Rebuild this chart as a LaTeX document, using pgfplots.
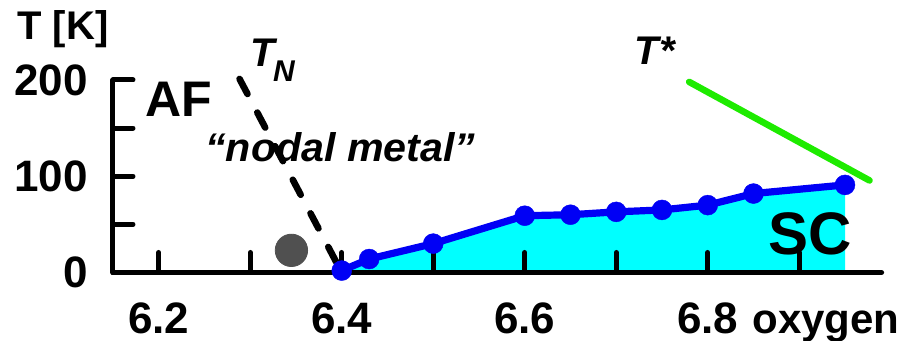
\documentclass[border=0pt]{standalone}
\usepackage{fontspec}
\setmainfont{Liberation Sans}
\usepackage{graphicx}
\usepackage{pgfplots}
\pgfplotsset{compat=1.18}

\definecolor{scblue}{RGB}{0,0,245}
\definecolor{sccyan}{RGB}{0,255,255}
\definecolor{pseudogreen}{RGB}{30,235,0}
\definecolor{dotgray}{RGB}{80,80,80}

% superconducting dome: oxygen content vs T_c
\pgfplotstableread{
ox    tc
6.40  2
6.43  14
6.50  30
6.60  59
6.65  60
6.70  63
6.75  65
6.80  70
6.85  82
6.95  91
}\tcdata

\begin{document}
\begin{tikzpicture}
\useasboundingbox (-56.5pt,-34.25pt) rectangle (396pt,136.25pt);
\begin{axis}[
  x=457.5pt, y=0.48125pt,
  xmin=6.15, xmax=6.99, ymin=0, ymax=200,
  axis lines=left,
  axis line style={-, line width=2.5pt, line cap=round},
  axis on top,
  clip=false,
  tick align=inside,
  major tick length=10pt, minor tick length=10pt,
  tick style={black, line width=2.5pt, line cap=round},
  xtick={6.2,6.4,6.6,6.8}, xticklabels={6.2,6.4,6.6,6.8},
  minor xtick={6.3,6.5,6.7,6.9},
  ytick={0,100,200}, yticklabels={0,100,200},
  minor ytick={50,150},
  xticklabel style={font=\fontsize{22}{22}\selectfont\bfseries, inner sep=0pt, anchor=north, yshift=-15pt},
  yticklabel style={font=\fontsize{22}{22}\selectfont\bfseries, inner sep=0pt, anchor=east, xshift=-12.5pt},
]
% SC region
\addplot[draw=none, fill=sccyan] table[x=ox, y=tc] {\tcdata} \closedcycle;
% Neel temperature
\addplot[black, line width=3.3pt, line cap=round, dash pattern=on 8.5pt off 10.5pt]
  coordinates {(6.2883,201.1) (6.40,0)};
% single point in the nodal metal region
\addplot[only marks, mark=*, mark size=8.1pt, color=dotgray] coordinates {(6.345,23)};
% T_c line
\addplot[scblue, line width=3.6pt, mark=*, mark size=5pt, mark options={line width=0.2pt, fill=scblue}]
  table[x=ox, y=tc] {\tcdata};
% pseudogap temperature
\addplot[pseudogreen, line width=3.3pt, line cap=round] coordinates {(6.7797,198.0) (6.9768,95.6)};

\node[anchor=base west, inner sep=0pt, font=\fontsize{20}{20}\selectfont\bfseries]
  at (axis cs:6.045,241.6) {T [K]};
\node[anchor=base west, inner sep=0pt, font=\fontsize{25}{25}\selectfont\bfseries]
  at (axis cs:6.185,161.6) {AF};
\node[anchor=base west, inner sep=0pt, font=\bfseries\itshape]
  at (axis cs:6.300,213.5) {\fontsize{20}{20}\selectfont T\kern-1pt\raisebox{-7.5pt}{\fontsize{15}{15}\selectfont N}};
\node[anchor=base west, inner sep=0pt, font=\fontsize{20}{20}\selectfont\bfseries\itshape]
  at (axis cs:6.720,215.6) {T*};
\node[anchor=base west, inner sep=0pt, font=\fontsize{20}{20}\selectfont\bfseries\itshape]
  at (axis cs:6.2505,114.8) {\scalebox{1.03}[1]{“nodal metal”}};
\node[anchor=base, inner sep=0pt, font=\fontsize{30}{30}\selectfont\bfseries]
  at (axis cs:6.912,18.2) {SC};
\node[anchor=base east, inner sep=0pt, font=\fontsize{21}{21}\selectfont\bfseries]
  at (axis cs:7.010,-62.9) {oxygen};
\end{axis}
\end{tikzpicture}
\end{document}
